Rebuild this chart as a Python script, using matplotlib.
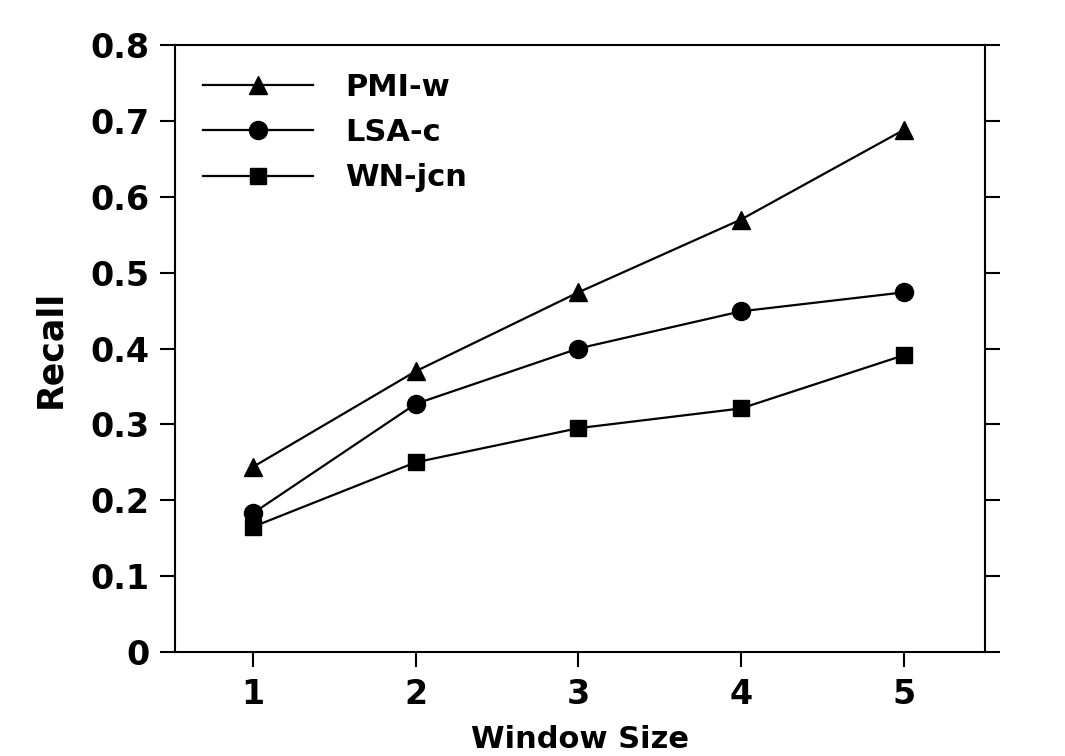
import matplotlib

matplotlib.use("Agg")
import matplotlib.pyplot as plt

window = [1, 2, 3, 4, 5]
pmi_w = [0.244, 0.370, 0.474, 0.570, 0.688]
lsa_c = [0.183, 0.327, 0.400, 0.449, 0.474]
wn_jcn = [0.165, 0.250, 0.295, 0.321, 0.391]
yticks = [0, 0.1, 0.2, 0.3, 0.4, 0.5, 0.6, 0.7, 0.8]
ylabels = ["0", "0.1", "0.2", "0.3", "0.4", "0.5", "0.6", "0.7", "0.8"]

plt.rcParams["font.family"] = ["DejaVu Sans"]
plt.rcParams["font.weight"] = "bold"

fig = plt.figure(figsize=(10.65, 7.56), dpi=100)
ax = fig.add_axes([175 / 1065, 1 - 652 / 756, 810 / 1065, 607 / 756])

style = dict(color="black", linewidth=1.6)
ax.plot(window, pmi_w, marker="^", markersize=13, label="PMI-w", **style)
ax.plot(window, lsa_c, marker="o", markersize=13, label="LSA-c", **style)
ax.plot(window, wn_jcn, marker="s", markersize=12, label="WN-jcn", **style)

ax.set_xlim(0.52, 5.5)
ax.set_ylim(0, 0.8)
ax.set_xticks(window)
ax.set_yticks(yticks)
ax.set_yticklabels(ylabels)
ax.tick_params(axis="both", direction="out", length=10.5, width=1.5,
               labelsize=24)
ax.tick_params(axis="y", right=True, labelright=False, pad=8)
ax.tick_params(axis="x", pad=8)
for s in ax.spines.values():
    s.set_linewidth(1.5)

ax.set_xlabel("Window Size", fontsize=22, fontweight="bold", labelpad=10)
ax.set_ylabel("Recall", fontsize=25, fontweight="bold", labelpad=16.5)

ax.legend(loc="upper left", bbox_to_anchor=(0.0346, 0.954), frameon=False,
          borderpad=0, borderaxespad=0, fontsize=22, handlelength=3.6,
          handletextpad=1.05, labelspacing=0.53)

fig.savefig("out.png", dpi=100)
